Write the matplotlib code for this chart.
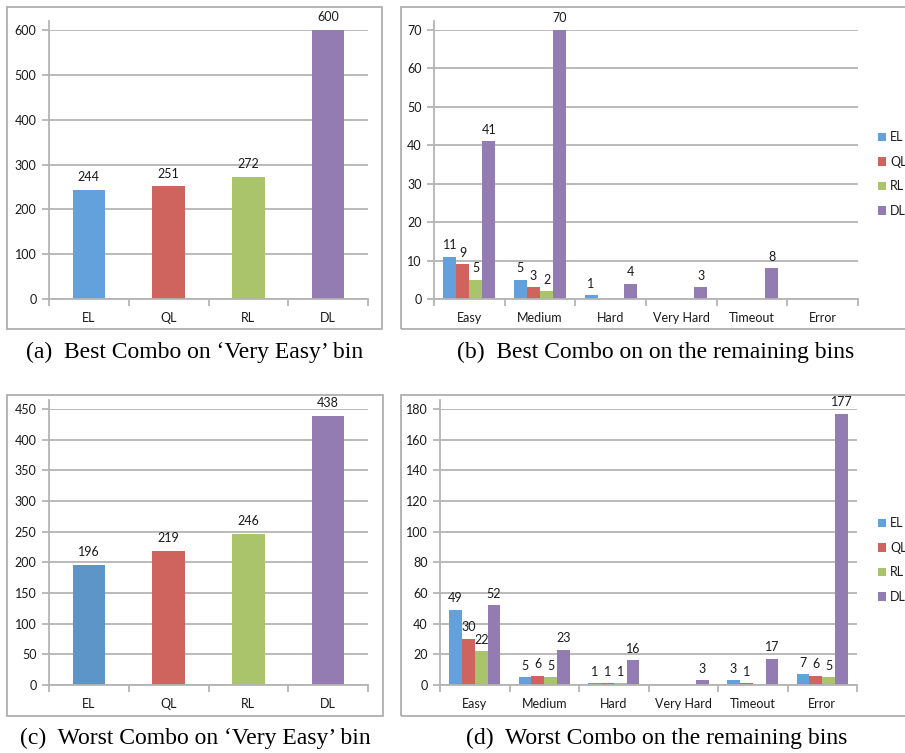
import matplotlib
matplotlib.use("Agg")
import matplotlib.pyplot as plt
from matplotlib.patches import Rectangle
import numpy as np

# data
methods = ["EL", "QL", "RL", "DL"]
bins = ["Easy", "Medium", "Hard", "Very Hard", "Timeout", "Error"]

best_very_easy = [244, 251, 272, 600]
worst_very_easy = [196, 219, 246, 438]

best_rest = {
    "EL": [11, 5, 1, 0, 0, 0],
    "QL": [9, 3, 0, 0, 0, 0],
    "RL": [5, 2, 0, 0, 0, 0],
    "DL": [41, 70, 4, 3, 8, 0],
}
worst_rest = {
    "EL": [49, 5, 1, 0, 3, 7],
    "QL": [30, 6, 1, 0, 1, 6],
    "RL": [22, 5, 1, 0, 0, 5],
    "DL": [52, 23, 16, 3, 17, 177],
}

colors = {"EL": "#62A1DC", "QL": "#CE645D", "RL": "#A9C46A", "DL": "#937CB2"}
colors_c = {"EL": "#5E95C9", "QL": "#CE645D", "RL": "#A9C46A", "DL": "#937CB2"}

GRID = "#B4B4B4"
TXT = "#1A1A1A"
FS = 9
plt.rcParams["font.family"] = ["Lato", "DejaVu Sans"]

W, H = 905, 753
fig = plt.figure(figsize=(W / 100, H / 100), dpi=100)


def box(l, t, r, b):
    return [l / W, 1 - b / H, (r - l) / W, (b - t) / H]


def style(ax, n, ymax, step, px_h):
    ax.set_xlim(-0.5, n - 0.5)
    ax.set_ylim(0, ymax)
    ax.set_yticks(np.arange(0, ymax + 1, step))
    ax.yaxis.grid(True, color=GRID, lw=1.3)
    ax.set_axisbelow(True)
    for s in ["top", "right"]:
        ax.spines[s].set_visible(False)
    for s in ["left", "bottom"]:
        ax.spines[s].set_color(GRID)
        ax.spines[s].set_linewidth(1.3)
    ax.spines["left"].set_bounds(0, ymax * (1 + 9 / px_h))
    ax.set_xticks(np.arange(-0.5, n, 1.0))
    ax.set_xticklabels([])
    ax.tick_params(axis="x", which="major", length=5, color=GRID, width=1.3)
    ax.tick_params(axis="y", length=5, color=GRID, width=1.3, labelsize=FS,
                   labelcolor=TXT, pad=4)
    ax.set_xticks(np.arange(n), minor=True)
    ax.tick_params(axis="x", which="minor", length=0, labelsize=FS,
                   labelcolor=TXT, pad=9)


def simple_panel(rect, vals, ymax, step, cols):
    ax = fig.add_axes(box(*rect))
    x = np.arange(len(methods))
    bars = ax.bar(x, vals, width=0.41, color=[cols[m] for m in methods])
    ax.bar_label(bars, labels=[str(v) for v in vals], padding=5,
                 fontsize=FS, color=TXT)
    style(ax, len(methods), ymax, step, rect[3] - rect[1])
    ax.set_xticklabels(methods, minor=True)
    return ax


def group_panel(rect, data, ymax, step, legend_top):
    ax = fig.add_axes(box(*rect))
    x = np.arange(len(bins))
    w = 0.185
    for i, m in enumerate(methods):
        vals = data[m]
        bars = ax.bar(x + (i - 1.5) * w, vals, width=w, color=colors[m],
                      label=m)
        ax.bar_label(bars, labels=["" if v == 0 else str(v) for v in vals],
                     padding=4, fontsize=FS, color=TXT)
    style(ax, len(bins), ymax, step, rect[3] - rect[1])
    ax.set_xticklabels(bins, minor=True)
    leg = ax.legend(loc="upper left",
                    bbox_to_anchor=(872 / W, 1 - legend_top / H),
                    bbox_transform=fig.transFigure, frameon=False,
                    fontsize=FS, handlelength=0.65, handleheight=0.65,
                    handletextpad=0.3, labelspacing=1.0, borderpad=0)
    for t in leg.get_texts():
        t.set_color(TXT)
    return ax


# panel frames
for l, t, r, b in [(7, 7, 382, 329), (401, 7, 910, 329),
                   (7, 395, 383, 716), (401, 395, 910, 716)]:
    fig.add_artist(Rectangle((l / W, 1 - b / H), (r - l) / W, (b - t) / H,
                             transform=fig.transFigure, fill=False,
                             edgecolor="#A8A8A8", lw=1.2))

simple_panel((49, 30, 368, 299), best_very_easy, 600, 100, colors)
group_panel((434, 30, 858, 299), best_rest, 70, 10, 125)
simple_panel((49, 409, 368, 685), worst_very_easy, 450, 50, colors_c)
group_panel((440, 409, 857, 685), worst_rest, 180, 20, 511)

cap = dict(fontsize=17, family=["Liberation Serif", "DejaVu Serif"],
           ha="center", va="center", color="black")
fig.text(195 / W, 1 - 352 / H, "(a)  Best Combo on \u2018Very Easy\u2019 bin", **cap)
fig.text(656 / W, 1 - 352 / H, "(b)  Best Combo on on the remaining bins", **cap)
fig.text(195 / W, 1 - 738 / H, "(c)  Worst Combo on \u2018Very Easy\u2019 bin", **cap)
fig.text(657 / W, 1 - 738 / H, "(d)  Worst Combo on the remaining bins", **cap)

fig.savefig("out.png", dpi=100)
